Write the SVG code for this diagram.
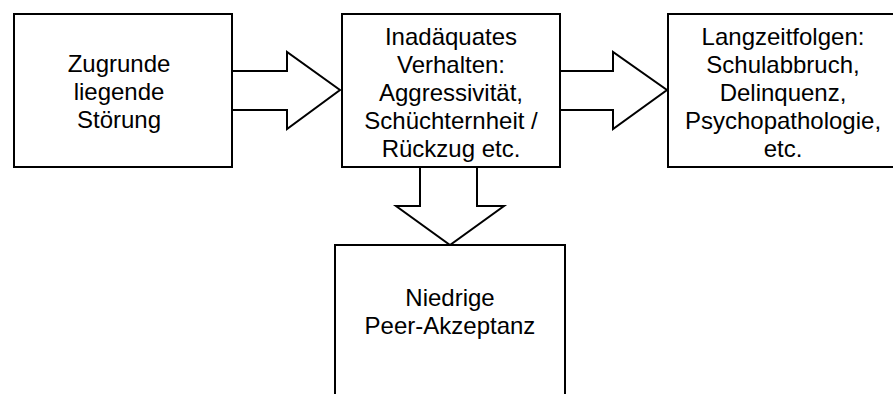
<svg xmlns="http://www.w3.org/2000/svg" width="893" height="394" viewBox="0 0 893 394">
<style>
.box{fill:#fff;stroke:#000;stroke-width:2}
.arr{fill:#fff;stroke:#000;stroke-width:2;stroke-linejoin:miter}
text{font-family:"Liberation Sans",Arial,sans-serif;font-size:24px;fill:#000;text-anchor:middle}
</style>
<rect width="893" height="394" fill="#fff"/>
<g id="connectors">
<path class="arr" d="M232,71 H287 V52 L340,90 L287,129 V110 H232"/>
<path class="arr" d="M560,71 H613 V52 L667,90 L613,129 V110 H560"/>
<path class="arr" d="M420,167 V206 H396 L450,245 L504,206 H477 V167"/>
</g>
<g id="n1">
<rect class="box" x="14" y="14" width="218" height="153"/>
<text x="119" y="72">Zugrunde</text>
<text x="119" y="100">liegende</text>
<text x="119" y="128">Störung</text>
</g>
<g id="n2">
<rect class="box" x="342" y="14" width="218" height="153"/>
<text x="451" y="45">Inadäquates</text>
<text x="451" y="73">Verhalten:</text>
<text x="451" y="101">Aggressivität,</text>
<text x="451" y="129">Schüchternheit /</text>
<text x="451" y="157">Rückzug etc.</text>
</g>
<g id="n3">
<rect class="box" x="668" y="14" width="232" height="153"/>
<text x="783" y="45">Langzeitfolgen:</text>
<text x="783" y="73">Schulabbruch,</text>
<text x="783" y="101">Delinquenz,</text>
<text x="783" y="129">Psychopathologie,</text>
<text x="783" y="157">etc.</text>
</g>
<g id="n4">
<rect class="box" x="335" y="245" width="230" height="170"/>
<text x="450" y="306">Niedrige</text>
<text x="450" y="334">Peer-Akzeptanz</text>
</g>
</svg>
